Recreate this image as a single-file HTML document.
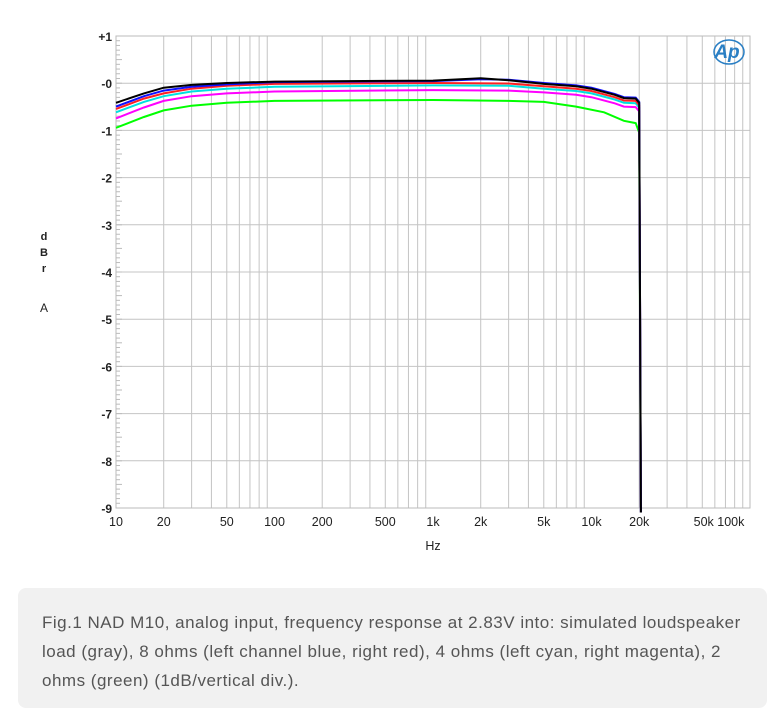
<!DOCTYPE html>
<html><head><meta charset="utf-8"><style>
body{margin:0;background:#fff;width:784px;height:696px;overflow:hidden;font-family:"Liberation Sans",sans-serif}
#cap{position:absolute;left:18px;top:588px;width:749px;height:120px;background:#f1f1f1;border-radius:8px}
#cap p{margin:0;padding:20px 10px 0 24px;font-size:17px;line-height:29px;color:#555;white-space:nowrap;letter-spacing:0.5px}
</style></head><body>
<svg id="s" width="784" height="590" style="position:absolute;left:0;top:0" font-family="Liberation Sans, sans-serif"></svg>
<div id="cap"><p>Fig.1 NAD M10, analog input, frequency response at 2.83V into: simulated loudspeaker<br>load (gray), 8 ohms (left channel blue, right red), 4 ohms (left cyan, right magenta), 2<br>ohms (green) (1dB/vertical div.).</p></div>
<script>
var L=116,R=750,T=36,B=508,D=158.5;
function X(f){return L+D*Math.log10(f/10);}
function Y(db){return 83-47.2*db;}
var h='';
for(var d=0;d<4;d++)for(var m=2;m<=9;m++){var x=L+D*(d+Math.log10(m));h+='<line x1="'+x+'" y1="'+T+'" x2="'+x+'" y2="'+B+'" stroke="#c4c4c4" stroke-width="1"/>';}
for(var i=0;i<=10;i++){var y=T+i*47.2;h+='<line x1="'+L+'" y1="'+y+'" x2="'+R+'" y2="'+y+'" stroke="#c4c4c4"/>';}
for(var i=0;i<100;i++){var y=T+i*4.72;h+='<line x1="'+L+'" y1="'+y+'" x2="'+(L+(i%5==0?6:4))+'" y2="'+y+'" stroke="#bbb"/>';}
h+='<rect x="'+L+'" y="'+T+'" width="'+(R-L)+'" height="'+(B-T)+'" fill="none" stroke="#bbb"/>';
var yl=['+1','-0','-1','-2','-3','-4','-5','-6','-7','-8','-9'];
for(var i=0;i<=10;i++)h+='<text x="112" y="'+(T+i*47.2+5)+'" text-anchor="end" font-size="12" font-weight="bold" fill="#222">'+yl[i]+'</text>';
var xl=[[10,'10'],[20,'20'],[50,'50'],[100,'100'],[200,'200'],[500,'500'],[1000,'1k'],[2000,'2k'],[5000,'5k'],[10000,'10k'],[20000,'20k']];
xl.forEach(function(a){h+='<text x="'+X(a[0])+'" y="526" text-anchor="middle" font-size="12.5" fill="#222">'+a[1]+'</text>';});
h+='<text x="719" y="526" text-anchor="middle" font-size="12.5" fill="#222">50k 100k</text>';
h+='<text x="433" y="550" text-anchor="middle" font-size="12.5" fill="#222">Hz</text>';
['d','B','r'].forEach(function(c,i){h+='<text x="44" y="'+(240+i*16)+'" text-anchor="middle" font-size="11" font-weight="bold" fill="#222">'+c+'</text>';});
h+='<text x="44" y="312" text-anchor="middle" font-size="12" fill="#222">A</text>';
h+='<text x="727" y="58" text-anchor="middle" font-size="19" font-style="italic" font-weight="bold" fill="#2a7fc4">Ap</text><ellipse cx="729" cy="52" rx="15" ry="12" fill="none" stroke="#2a7fc4" stroke-width="1.5"/>';
function curve(pts,col){var s='';pts.forEach(function(p,i){s+=(i?'L':'M')+X(p[0]).toFixed(1)+' '+Y(p[1]).toFixed(1);});s+='L'+X(20500)+' '+Y(-9.1);return '<path d="'+s+'" fill="none" stroke="'+col+'" stroke-width="2"/>';}
var hf=function(o){return [[5000,-0.02+o],[8000,-0.07+o],[10000,-0.12+o],[14000,-0.25+o],[16000,-0.32+o],[19000,-0.33+o],[20000,-0.42+o]];};
var c=[
['#00ff00',[[10,-0.95],[15,-0.72],[20,-0.58],[30,-0.48],[50,-0.42],[100,-0.38],[1000,-0.36],[3000,-0.38],[5000,-0.4],[8000,-0.5],[12000,-0.62],[16000,-0.8],[19000,-0.85],[20000,-1.05]]],
['#ff00ff',[[10,-0.75],[15,-0.52],[20,-0.38],[30,-0.28],[50,-0.22],[100,-0.18],[1000,-0.15],[3000,-0.16]].concat(hf(-0.18))],
['#00e0e0',[[10,-0.62],[15,-0.4],[20,-0.28],[30,-0.18],[50,-0.12],[100,-0.08],[1000,-0.05],[3000,-0.06]].concat(hf(-0.1))],
['#ff2020',[[10,-0.55],[15,-0.33],[20,-0.22],[30,-0.12],[50,-0.06],[100,-0.02],[1000,0.0],[3000,-0.01]].concat(hf(-0.05))],
['#1010ff',[[10,-0.5],[15,-0.28],[20,-0.16],[30,-0.08],[50,-0.03],[100,0.02],[1000,0.04],[2000,0.08],[3000,0.07]].concat(hf(0.02))],
['#000000',[[10,-0.42],[15,-0.22],[20,-0.1],[30,-0.04],[50,0.0],[100,0.03],[1000,0.05],[2000,0.1],[3000,0.06]].concat(hf(0))]
];
c.forEach(function(a){h+=curve(a[1],a[0]);});
document.getElementById('s').innerHTML=h;
</script>
</body></html>
